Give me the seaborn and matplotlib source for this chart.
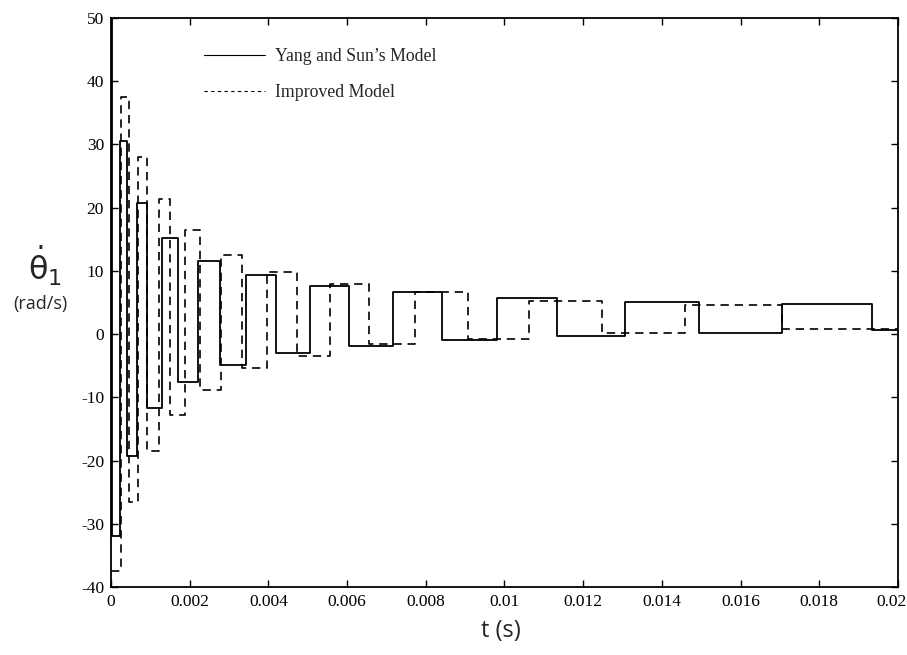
import pandas as pd
import matplotlib
matplotlib.use('Agg')
import matplotlib.pyplot as plt
import matplotlib.transforms as mtransforms
import seaborn as sns
from matplotlib.lines import Line2D

# Yang and Sun's model (solid) - step levels, each starting at the given time
yang_t = [0, 0.00002, 0.00023, 0.00041, 0.00067, 0.00092, 0.00129, 0.00171, 0.00222,
          0.00277, 0.00343, 0.00419, 0.00507, 0.00605, 0.00716, 0.0084, 0.0098,
          0.01133, 0.01306, 0.01495, 0.01705, 0.01935, 0.02]
yang_v = [60, -32, 30.5, -19.3, 20.7, -11.7, 15.2, -7.5, 11.6, -4.9, 9.3, -3.0, 7.6,
          -1.8, 6.6, -0.9, 5.75, -0.35, 5.1, 0.1, 4.75, 0.65, 0.65]

# Improved model (dashed)
imp_t = [0, 0.00026, 0.00046, 0.00069, 0.00091, 0.00122, 0.0015, 0.00188, 0.00226,
         0.0028, 0.00332, 0.00396, 0.00473, 0.00557, 0.00656, 0.00773, 0.00907,
         0.01062, 0.01247, 0.01459, 0.01705, 0.02]
imp_v = [-37.5, 37.5, -26.5, 28, -18.5, 21.3, -12.8, 16.4, -8.9, 12.5, -5.4, 9.9,
         -3.5, 7.9, -1.6, 6.6, -0.8, 5.3, 0.2, 4.6, 0.8, 0.8]

x_ticks = [0, 0.002, 0.004, 0.006, 0.008, 0.01, 0.012, 0.014, 0.016, 0.018, 0.02]
x_labels = ['0', '0.002', '0.004', '0.006', '0.008', '0.01', '0.012', '0.014',
            '0.016', '0.018', '0.02']
y_ticks = [-40, -30, -20, -10, 0, 10, 20, 30, 40, 50]

df_yang = pd.DataFrame({'t': yang_t, 'v': yang_v})
df_imp = pd.DataFrame({'t': imp_t, 'v': imp_v})

sns.set_style('ticks')
plt.rcParams['font.family'] = ['Liberation Serif', 'DejaVu Serif']
plt.rcParams['axes.unicode_minus'] = False
plt.rcParams['mathtext.fontset'] = 'dejavusans'

fig = plt.figure(figsize=(9.07, 6.55), dpi=100)
ax = fig.add_axes([0.1224, 0.1038, 0.8676, 0.8687])

sns.lineplot(data=df_yang, x='t', y='v', ax=ax, estimator=None, sort=False,
             drawstyle='steps-post', color='black', linewidth=1.3)
sns.lineplot(data=df_imp, x='t', y='v', ax=ax, estimator=None, sort=False,
             drawstyle='steps-post', color='black', linewidth=1.2,
             linestyle=(0, (5, 3.5)))

ax.set_xlim(0, 0.02)
ax.set_ylim(-40, 50)
ax.set_xticks(x_ticks)
ax.set_xticklabels(x_labels)
ax.set_yticks(y_ticks)
ax.tick_params(direction='in', top=True, right=True, length=5, width=1,
               labelsize=12.5, colors='black', pad=5)
for s in ax.spines.values():
    s.set_linewidth(1.3)
    s.set_color('black')
ax.set_xlabel('')
ax.set_ylabel('')

# keep last x label inside the picture
last = ax.get_xticklabels()[-1]
last.set_transform(last.get_transform() + mtransforms.ScaledTranslation(-6 / 100, 0, fig.dpi_scale_trans))

# legend without frame
handles = [Line2D([], [], color='black', linewidth=0.8),
           Line2D([], [], color='black', linewidth=0.8, linestyle=(0, (3, 3)))]
ax.legend(handles, ["Yang and Sun\u2019s Model", 'Improved Model'], frameon=False,
          loc='upper left', bbox_to_anchor=(0.098, 0.975), handlelength=3.4,
          handletextpad=0.6, labelspacing=1.05, fontsize=12.8)

fig.text(0.552, 0.037, 't (s)', ha='center', va='center', fontsize=17,
         family=['Open Sans', 'DejaVu Sans'])
fig.text(0.05, 0.594, r'$\dot{\mathrm{\theta}}_\mathrm{1}$', ha='center', va='center',
         fontsize=23)
fig.text(0.045, 0.536, '(rad/s)', ha='center', va='center', fontsize=13,
         family=['Open Sans', 'DejaVu Sans'])

fig.savefig('out.png', dpi=100)
